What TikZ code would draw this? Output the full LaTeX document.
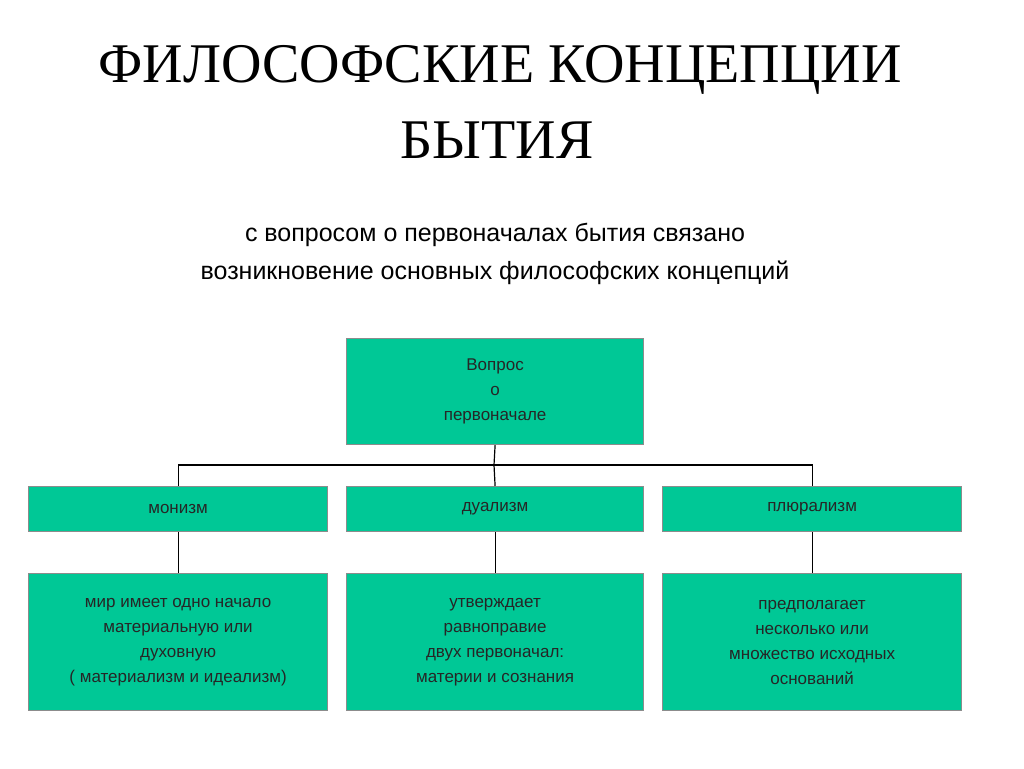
\documentclass[tikz,border=0pt]{standalone}
\usepackage{fontspec}
\setmainfont{Liberation Serif}
\newfontfamily\boxfont{Liberation Sans}
\begin{document}
\begin{tikzpicture}[x=1pt,y=-1pt,
  bx/.style={draw=black!45, line width=1.2pt, fill={rgb,255:red,0;green,200;blue,150}, anchor=north west, inner sep=0pt, align=center, font=\boxfont\fontsize{17}{25}\selectfont, text=black!85},
  ln/.style={line width=1.2pt}]
\useasboundingbox (0,0) rectangle (1024,768);
\node[font=\fontsize{56}{66}\selectfont] (t1) at (500,70) {ФИЛОСОФСКИЕ КОНЦЕПЦИИ};
\node[font=\fontsize{56}{66}\selectfont] (t2) at (497,140) {БЫТИЯ};
\node[font=\boxfont\fontsize{25}{38}\selectfont, align=center] (sub) at (495,254) {с вопросом о первоначалах бытия связано\\возникновение основных философских концепций};
\node[bx, minimum width=297pt, minimum height=106pt] (q) at (346,338) {Вопрос\\о\\первоначале};
\node[bx, minimum width=299pt, minimum height=45pt] (m) at (28,486) {монизм};
\node[bx, minimum width=297pt, minimum height=45pt] (d) at (346,486) {дуализм};
\node[bx, minimum width=299pt, minimum height=45pt] (p) at (662,486) {плюрализм};
\node[bx, minimum width=299pt, minimum height=137pt] (m2) at (28,573) {мир имеет одно начало\\материальную или\\духовную\\( материализм и идеализм)};
\node[bx, minimum width=297pt, minimum height=137pt] (d2) at (346,573) {утверждает\\равноправие\\двух первоначал:\\материи и сознания};
\node[bx, minimum width=299pt, minimum height=137pt] (p2) at (662,573) {предполагает\\несколько или\\множество исходных\\оснований};
\coordinate (j) at (494,465);
\draw[ln] (q.south) -- (j);
\draw[ln] (m.north) |- (j) -| (p.north);
\draw[ln] (j) -- (d.north);
\draw[ln] (m) -- (m2);
\draw[ln] (d) -- (d2);
\draw[ln] (p) -- (p2);
\end{tikzpicture}
\end{document}
